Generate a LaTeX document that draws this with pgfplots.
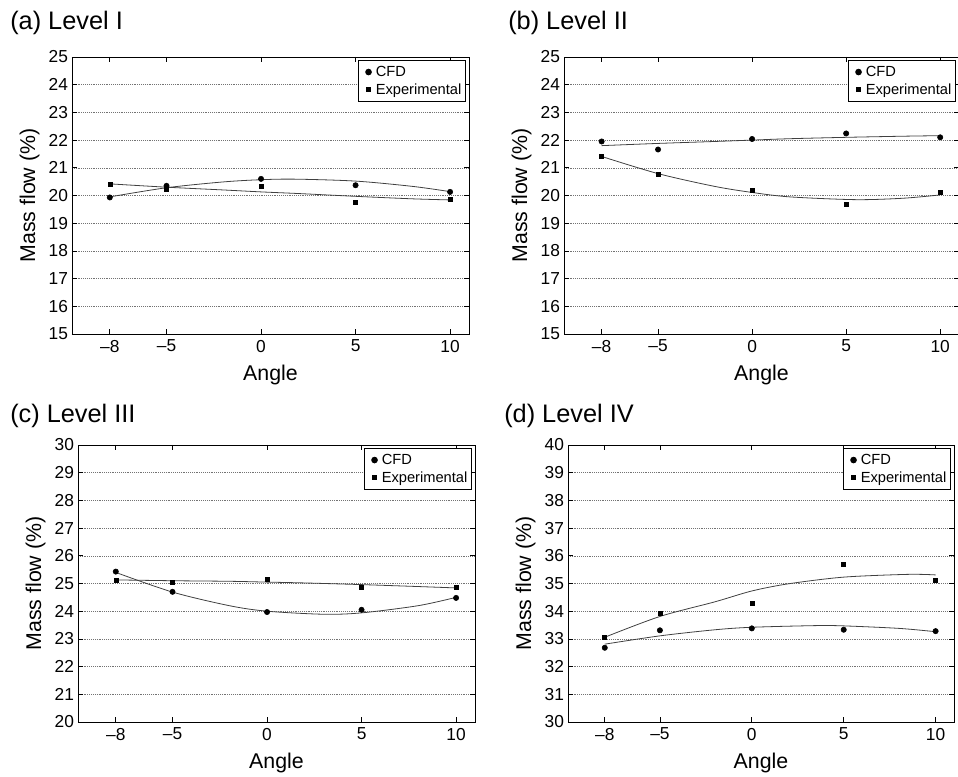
\documentclass[border=0pt]{standalone}
\usepackage{fontspec}
\setmainfont{Liberation Sans}
\usepackage{pgfplots}
\pgfplotsset{compat=1.18}

\pgfplotsset{
  panel/.style={
    scale only axis,
    xmin=-10, xmax=11,
    xtick={-8,-5,0,5,10},
    xticklabels={\textendash 8,\textendash 5,0,5,10},
    ytick distance=1,
    tick align=inside,
    major tick length=3.5pt,
    tick style={black, line width=0.5pt},
    axis line style={black, line width=0.7pt},
    ymajorgrids,
    major grid style={black!55, densely dotted, line width=0.4pt},
    /pgf/number format/assume math mode=true,
    tick label style={font=\fontsize{13}{15}\selectfont},
    xticklabel style={yshift=-1pt},
    yticklabel style={xshift=0.5pt},
    label style={font=\fontsize{16}{19}\selectfont},
    xlabel style={yshift=-3pt},
    xlabel={Angle},
    ylabel={Mass flow (\%)},
    legend style={at={(1,1)}, anchor=north east, xshift=-2.25pt, yshift=-2.25pt,
      draw=black, line width=0.9pt, font=\fontsize{11}{13}\selectfont,
      inner xsep=1pt, inner ysep=2pt, row sep=0pt, fill=white},
    legend cell align=left,
    legend image code/.code={\path (-6pt,0) (3pt,0); \draw[##1] plot coordinates {(0pt,0pt)};},
  },
  cfd/.style={only marks, mark=*, mark size=2pt, black},
  exp/.style={only marks, mark=square*, mark size=1.5pt, black},
  fit/.style={black!75, line width=0.6pt, smooth, forget plot},
}

\begin{document}
\begin{tikzpicture}
\useasboundingbox (0,0) rectangle (718.5pt,582pt);

% (a) Level I
\begin{axis}[panel, at={(54pt,331.5pt)}, anchor=south west,
  width=297.75pt, height=207.75pt, ymin=15, ymax=25]
\addplot[fit] coordinates {(-8,19.95) (-5,20.28) (-2,20.49) (0,20.57) (1.8,20.59) (5,20.52) (8,20.33) (10,20.14)};
\addplot[fit] coordinates {(-8,20.42) (-5,20.30) (-2,20.20) (0,20.13) (2,20.07) (5,19.97) (8,19.88) (10,19.84)};
\addplot[cfd] coordinates {(-8,19.93) (-5,20.35) (0,20.60) (5,20.37) (10,20.13)};
\addplot[exp] coordinates {(-8,20.40) (-5,20.22) (0,20.35) (5,19.74) (10,19.87)};
\legend{CFD, Experimental}
\end{axis}

% (b) Level II
\begin{axis}[panel, at={(423pt,331.5pt)}, anchor=south west,
  width=296.25pt, height=207.75pt, ymin=15, ymax=25]
\addplot[fit] coordinates {(-8,21.80) (-5,21.88) (-2,21.95) (0,22.00) (2,22.05) (5,22.10) (8,22.14) (10,22.16)};
\addplot[fit] coordinates {(-8,21.41) (-5,20.79) (-2,20.33) (0,20.11) (2,19.95) (5.5,19.85) (8,19.90) (10,20.02)};
\addplot[cfd] coordinates {(-8,21.95) (-5,21.66) (0,22.04) (5,22.24) (10,22.10)};
\addplot[exp] coordinates {(-8,21.41) (-5,20.78) (0,20.20) (5,19.69) (10,20.11)};
\legend{CFD, Experimental}
\end{axis}

% (c) Level III
\begin{axis}[panel, at={(58.5pt,40.5pt)}, anchor=south west,
  width=297.75pt, height=207.75pt, ymin=20, ymax=30]
\addplot[fit] coordinates {(-8,25.40) (-5,24.69) (-2,24.20) (0,24.00) (3,23.89) (5,23.94) (8,24.20) (10,24.50)};
\addplot[fit] coordinates {(-8,25.13) (-5,25.10) (-2,25.08) (0,25.05) (2,25.02) (5,24.96) (8,24.89) (10,24.84)};
\addplot[cfd] coordinates {(-8,25.43) (-5,24.70) (0,23.97) (5,24.05) (10,24.48)};
\addplot[exp] coordinates {(-8,25.12) (-5,25.04) (0,25.17) (5,24.87) (10,24.88)};
\legend{CFD, Experimental}
\end{axis}

% (d) Level IV
\begin{axis}[panel, at={(426pt,40.5pt)}, anchor=south west,
  width=289.5pt, height=207.75pt, ymin=30, ymax=40]
\addplot[fit] coordinates {(-8,32.81) (-5,33.11) (-2,33.33) (0,33.42) (3.5,33.48) (5,33.47) (8,33.38) (10,33.26)};
\addplot[fit] coordinates {(-8,33.06) (-5,33.81) (-2,34.34) (0,34.73) (2,34.99) (5,35.23) (8.5,35.33) (10,35.31)};
\addplot[cfd] coordinates {(-8,32.68) (-5,33.31) (0,33.38) (5,33.33) (10,33.28)};
\addplot[exp] coordinates {(-8,33.06) (-5,33.94) (0,34.27) (5,35.70) (10,35.13)};
\legend{CFD, Experimental}
\end{axis}

% panel titles
\node[anchor=base west, font=\fontsize{19}{22}\selectfont, inner sep=0pt] at (7.5pt,559.5pt) {(a) Level I};
\node[anchor=base west, font=\fontsize{19}{22}\selectfont, inner sep=0pt] at (381pt,559.5pt) {(b) Level II};
\node[anchor=base west, font=\fontsize{19}{22}\selectfont, inner sep=0pt] at (7.5pt,264.75pt) {(c) Level III};
\node[anchor=base west, font=\fontsize{19}{22}\selectfont, inner sep=0pt] at (378pt,264.75pt) {(d) Level IV};
\end{tikzpicture}
\end{document}
